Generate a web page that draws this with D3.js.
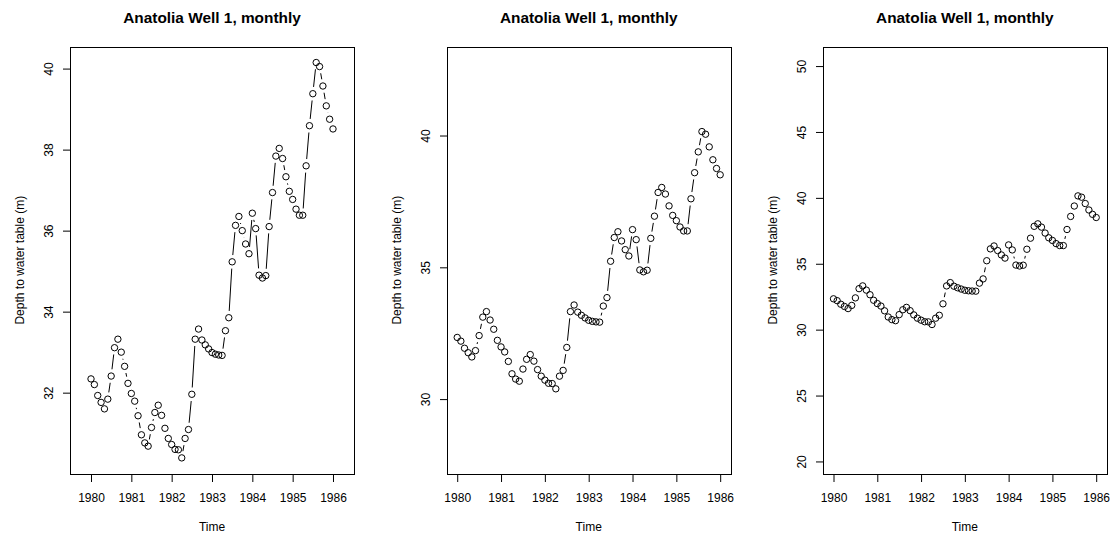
<!DOCTYPE html>
<html>
<head>
<meta charset="utf-8">
<script src="https://cdn.jsdelivr.net/npm/d3@7"></script>
<style>
  html, body { margin: 0; padding: 0; background: #fff; }
  svg { display: block; }
  text { font-family: "Liberation Sans", Arial, Helvetica, sans-serif; fill: #000; }
</style>
</head>
<body>
<svg id="chart" width="1112" height="535"></svg>
<script>
// ---- data ----
const startYear = 1980;
const depth = [
  32.34, 32.20, 31.93, 31.76, 31.60, 31.84, 32.41, 33.11, 33.32, 33.00, 32.65, 32.23,
  31.98, 31.79, 31.43, 30.96, 30.76, 30.68, 31.14, 31.51, 31.69, 31.44, 31.12, 30.87,
  30.72, 30.60, 30.59, 30.39, 30.87, 31.09, 31.96, 33.32, 33.57, 33.30, 33.18, 33.08,
  32.99, 32.95, 32.93, 32.92, 33.53, 33.85, 35.23, 36.13, 36.35, 36.00, 35.67, 35.43,
  36.43, 36.05, 34.90, 34.83, 34.89, 36.10, 36.94, 37.84, 38.03, 37.78, 37.33, 36.97,
  36.77, 36.53, 36.38, 36.38, 37.60, 38.59, 39.38, 40.15, 40.05, 39.57, 39.08, 38.75,
  38.51
];
const xTicks = [1980, 1981, 1982, 1983, 1984, 1985, 1986];
const yTicks1 = [32, 34, 36, 38, 40];
const yTicks2 = [30, 35, 40];
const yTicks3 = [20, 25, 30, 35, 40, 45, 50];
const yRangeWidths = [null, 15, 30];     // null = data range
const xlim1 = [1979.74, 1986.26];
const titleText = "Anatolia Well 1, monthly";
const xLabel = "Time";
const yLabel = "Depth to water table (m)";

const times = depth.map((d, i) => startYear + i / 12);
const pts = depth.map((d, i) => ({ t: times[i], v: d }));

// ---- layout ----
const svg = d3.select("#chart");
const plotTop = 46.7, plotBottom = 473.7;
const panels = [
  { left: 70,    right: 354,    xlim: xlim1,            yTicks: yTicks1, w: yRangeWidths[0] },
  { left: 446.7, right: 730.7,  xlim: d3.extent(times), yTicks: yTicks2, w: yRangeWidths[1] },
  { left: 823,   right: 1106.7, xlim: d3.extent(times), yTicks: yTicks3, w: yRangeWidths[2] }
];

function padR(lim) { const r = lim[1] - lim[0]; return [lim[0] - 0.04 * r, lim[1] + 0.04 * r]; }

const ext = d3.extent(depth);
const mid = (ext[0] + ext[1]) / 2;
const gap = 6.8, rad = 3.2, tickLen = 7.5;

panels.forEach(p => {
  const ylim = p.w == null ? ext : [mid - p.w / 2, mid + p.w / 2];
  const x = d3.scaleLinear().domain(padR(p.xlim)).range([p.left, p.right]);
  const y = d3.scaleLinear().domain(padR(ylim)).range([plotBottom, plotTop]);
  const g = svg.append("g");

  // segments with gaps (type = "b")
  const segs = [];
  for (let i = 0; i < pts.length - 1; i++) {
    const x0 = x(pts[i].t), y0 = y(pts[i].v), x1 = x(pts[i + 1].t), y1 = y(pts[i + 1].v);
    const dx = x1 - x0, dy = y1 - y0, d = Math.hypot(dx, dy);
    if (d > 2 * gap) {
      const f = gap / d;
      segs.push([x0 + f * dx, y0 + f * dy, x1 - f * dx, y1 - f * dy]);
    }
  }
  g.selectAll("line.seg").data(segs).enter().append("line")
    .attr("x1", s => s[0]).attr("y1", s => s[1]).attr("x2", s => s[2]).attr("y2", s => s[3])
    .attr("stroke", "#000").attr("stroke-width", 1);

  g.selectAll("circle").data(pts).enter().append("circle")
    .attr("cx", d => x(d.t)).attr("cy", d => y(d.v)).attr("r", rad)
    .attr("fill", "none").attr("stroke", "#000").attr("stroke-width", 1);

  // box
  g.append("rect").attr("x", Math.round(p.left) + 0.5).attr("y", Math.round(plotTop) + 0.5)
    .attr("width", Math.round(p.right) - Math.round(p.left)).attr("height", Math.round(plotBottom) - Math.round(plotTop))
    .attr("fill", "none").attr("stroke", "#000").attr("stroke-width", 1);

  // x axis
  const xa = d3.axisBottom(x).tickValues(xTicks).tickFormat(d3.format("d")).tickSize(tickLen).tickPadding(0);
  const gx = g.append("g").attr("transform", `translate(0,${Math.round(plotBottom) + 0.5})`).call(xa);
  gx.select(".domain").remove();
  gx.selectAll("line").attr("stroke", "#000");
  gx.selectAll("text").attr("dy", null).attr("y", 27).attr("font-size", "12px");

  // y axis
  const ya = d3.axisLeft(y).tickValues(p.yTicks).tickFormat(d3.format("d")).tickSize(tickLen).tickPadding(0);
  const gy = g.append("g").attr("transform", `translate(${Math.round(p.left) + 0.5},0)`).call(ya);
  gy.select(".domain").remove();
  gy.selectAll("line").attr("stroke", "#000");
  gy.selectAll(".tick text")
    .attr("x", null).attr("dy", null).attr("text-anchor", "middle")
    .attr("transform", "translate(-18,0) rotate(-90)").attr("font-size", "12px");

  // labels
  g.append("text").attr("x", (p.left + p.right) / 2).attr("y", 22.7)
    .attr("text-anchor", "middle").attr("font-weight", "bold").attr("font-size", "15.4px").text(titleText);
  g.append("text").attr("x", (p.left + p.right) / 2).attr("y", 530.7)
    .attr("text-anchor", "middle").attr("font-size", "12px").text(xLabel);
  g.append("text").attr("transform", `translate(${p.left - 46},${(plotTop + plotBottom) / 2}) rotate(-90)`)
    .attr("text-anchor", "middle").attr("font-size", "12px").text(yLabel);
});
</script>
</body>
</html>
